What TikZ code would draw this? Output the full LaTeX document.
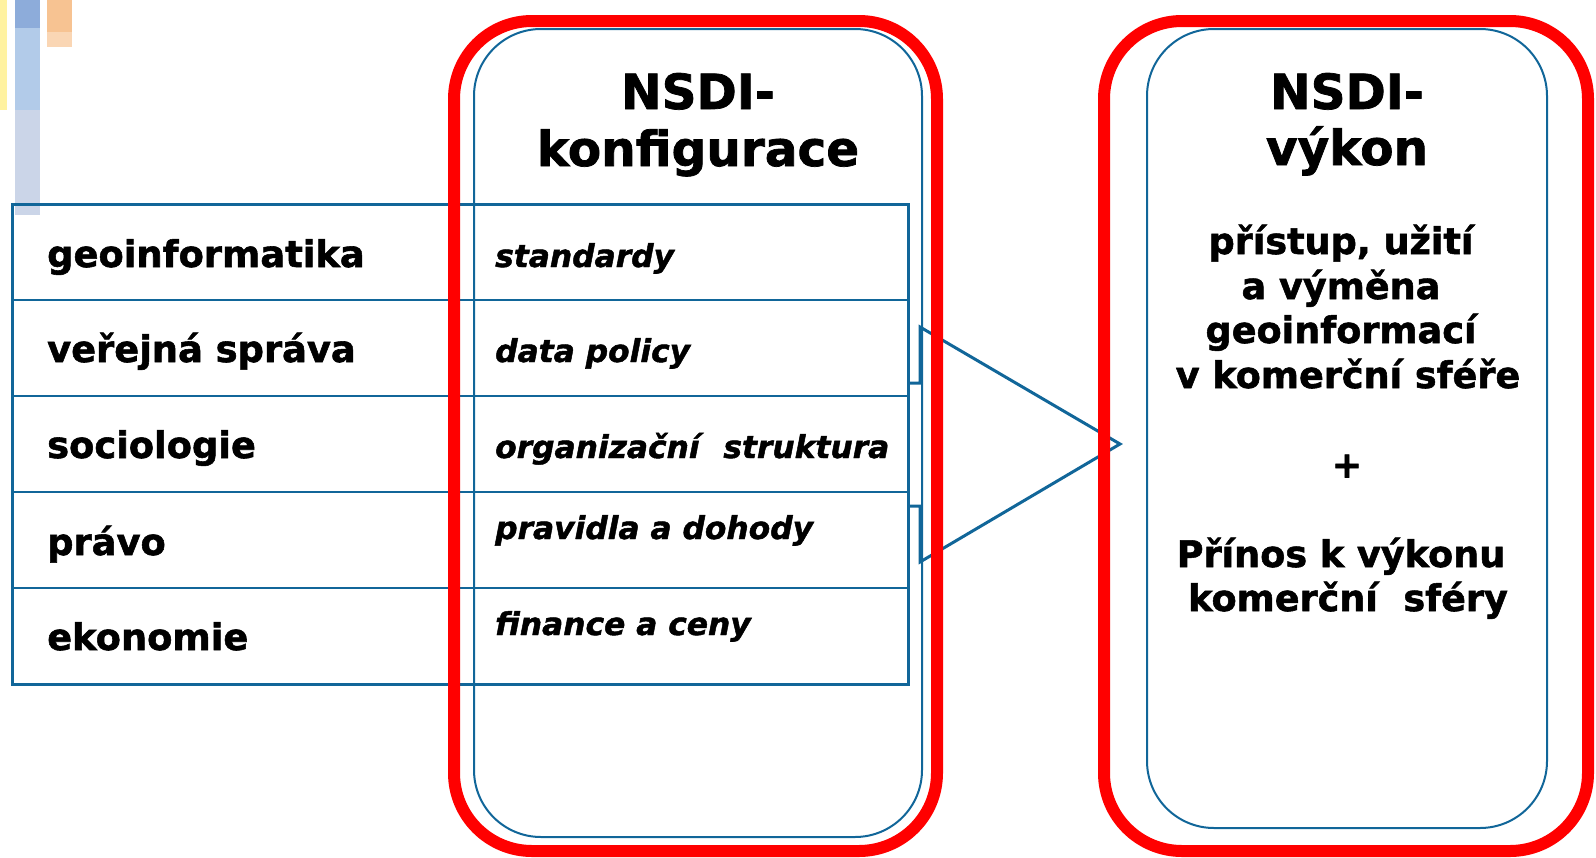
\documentclass[tikz,border=0pt]{standalone}
\usepackage{fontspec}
\setmainfont{DejaVu Sans}[BoldFeatures={FakeBold=1.5},BoldItalicFeatures={FakeBold=1.5}]
\definecolor{nblue}{RGB}{17,102,153}
\definecolor{decoyel}{RGB}{255,242,160}
\definecolor{decoblA}{RGB}{141,172,218}
\definecolor{decoblB}{RGB}{178,203,233}
\definecolor{decoblC}{RGB}{203,213,232}
\definecolor{decoorA}{RGB}{247,195,146}
\definecolor{decoorB}{RGB}{250,214,180}
\begin{document}
\begin{tikzpicture}[x=1pt,y=-1pt,
  redbox/.style={draw=red, line width=12pt, rounded corners=78pt},
  bluebox/.style={draw=nblue, line width=2pt, rounded corners=67pt},
  tabouter/.style={draw=nblue, line width=3pt},
  tabline/.style={draw=nblue, line width=2.4pt},
  arrowline/.style={draw=nblue, line width=3pt, line join=miter},
  lefttxt/.style={anchor=base west, inner sep=0pt, font=\fontsize{36.8}{44}\selectfont\bfseries},
  ittxt/.style={anchor=base west, inner sep=0pt, font=\fontsize{31.3}{38}\selectfont\bfseries\itshape},
  titletxt/.style={anchor=base, inner sep=0pt, font=\fontsize{48.5}{57}\selectfont\bfseries},
  righttxt/.style={anchor=base, inner sep=0pt, font=\fontsize{36.6}{44}\selectfont\bfseries}]
\useasboundingbox (0,0) rectangle (1596,857);
% decoration
\fill[decoyel] (0,0) rectangle (7,110);
\fill[decoblA] (15,0) rectangle (40,28);
\fill[decoblB] (15,28) rectangle (40,110);
\fill[decoblC] (15,110) rectangle (40,215);
\fill[decoorA] (47,0) rectangle (72,32);
\fill[decoorB] (47,32) rectangle (72,47);
% inner blue boxes
\draw[bluebox] (474,29) rectangle (922,837);
\draw[bluebox] (1147,29) rectangle (1547,828);
% table
\draw[tabouter] (12,204) rectangle (908,684);
\foreach \yy in {300,396,492,588} \draw[tabline] (12,\yy) -- (908,\yy);
% arrow
\coordinate (a1) at (908,383);
\coordinate (a2) at (920,383);
\coordinate (a3) at (920,327);
\coordinate (tip) at (1120,444);
\coordinate (a5) at (920,562);
\coordinate (a6) at (920,506);
\coordinate (a7) at (908,506);
\draw[arrowline] (a1) -- (a2) -- (a3) -- (tip) -- (a5) -- (a6) -- (a7);
% red boxes
\draw[redbox] (454,21) rectangle (937,851);
\draw[redbox] (1104,21) rectangle (1588,851);
% left column
\node[lefttxt] (l1) at (47,267) {geoinformatika};
\node[lefttxt] (l2) at (47,362) {veřejná správa};
\node[lefttxt] (l3) at (47,458) {sociologie};
\node[lefttxt] (l4) at (47,555) {právo};
\node[lefttxt] (l5) at (47,650) {ekonomie};
% italic column
\node[ittxt] (c1) at (495,267) {standardy};
\node[ittxt] (c2) at (495,362) {data policy};
\node[ittxt] (c3) at (495,458) {organizační\hspace{0.76em}struktura};
\node[ittxt] (c4) at (495,539) {pravidla a dohody};
\node[ittxt] (c5) at (495,635) {finance a ceny};
% titles
\node[titletxt] (t1a) at (698,109) {NSDI-};
\node[titletxt] (t1b) at (698,166) {konfigurace};
\node[titletxt] (t2a) at (1347,109) {NSDI-};
\node[titletxt] (t2b) at (1347,165) {výkon};
% right text
\node[righttxt] (r1) at (1341,254) {přístup, užití};
\node[righttxt] (r2) at (1341,299) {a výměna};
\node[righttxt] (r3) at (1341,343) {geoinformací};
\node[righttxt] (r4) at (1348,388) {v komerční sféře};
\node[anchor=center, inner sep=0pt, font=\fontsize{36.6}{44}\selectfont\bfseries] (plus) at (1347,466) {+};
\node[righttxt] (r5) at (1341,567) {Přínos k výkonu};
\node[righttxt] (r6) at (1348,611) {komerční\ \ sféry};
\end{tikzpicture}
\end{document}
